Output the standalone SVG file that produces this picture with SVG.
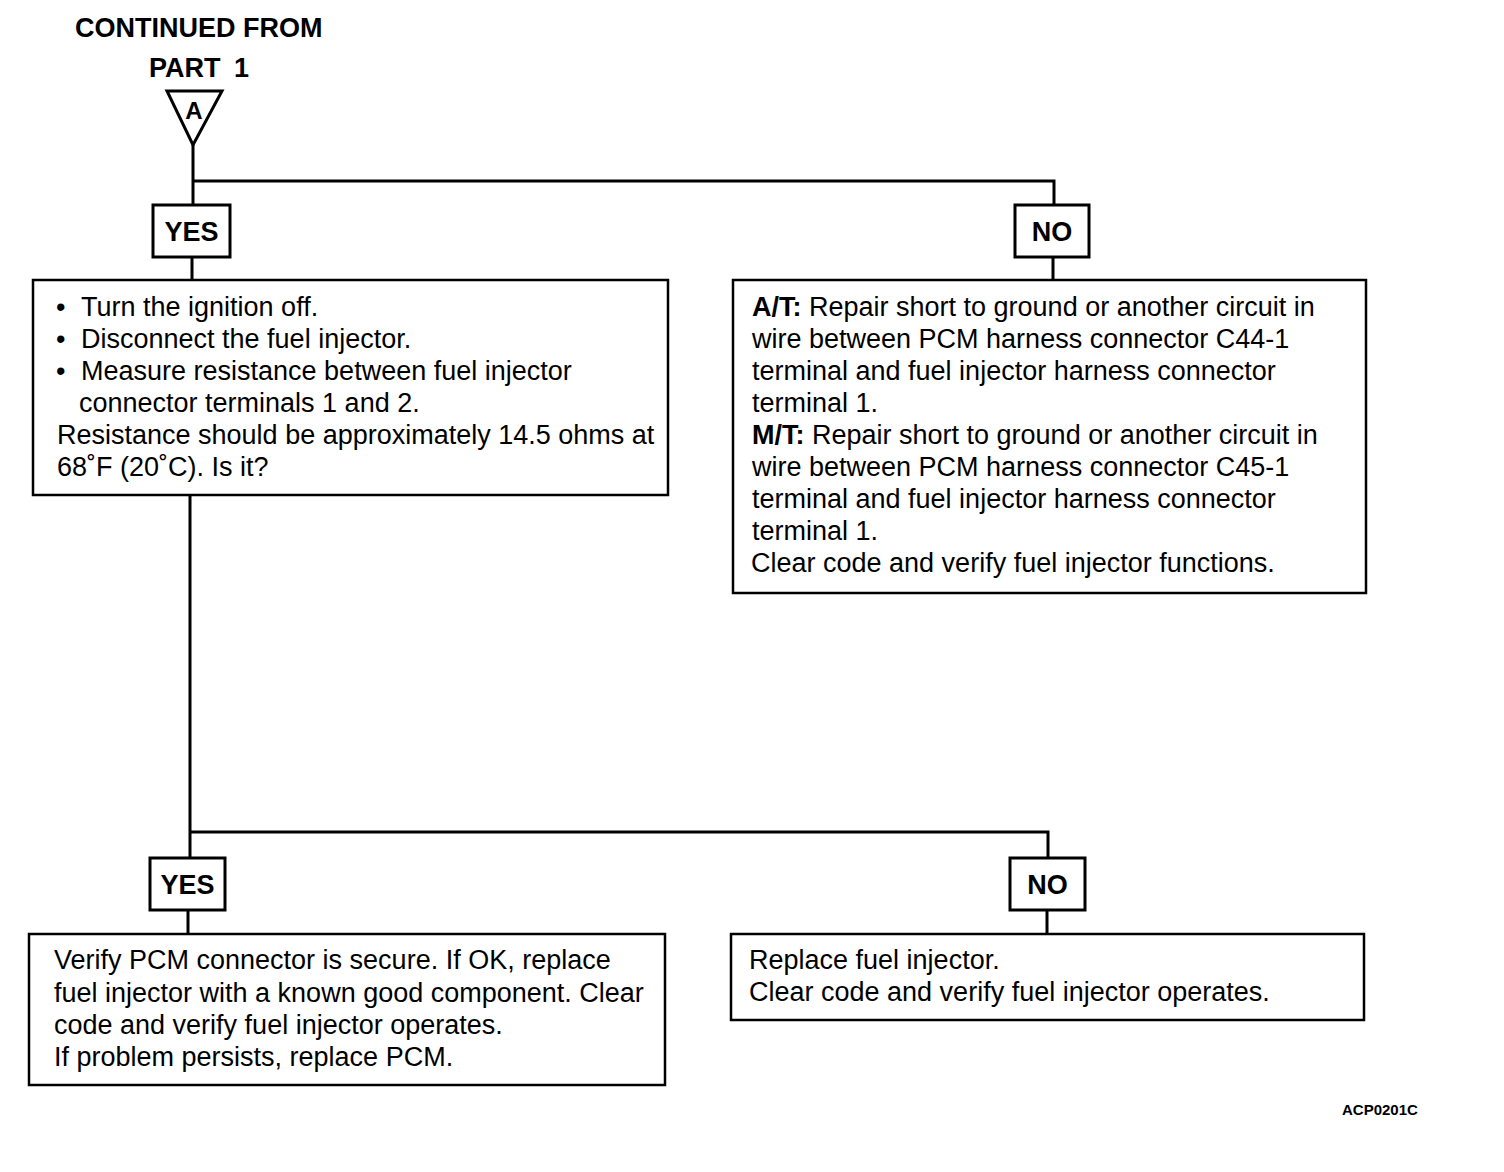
<svg xmlns="http://www.w3.org/2000/svg" width="1504" height="1172" viewBox="0 0 1504 1172">
<style>
.box{fill:#fff;stroke:#000;stroke-width:2.5}
.lbl{fill:#fff;stroke:#000;stroke-width:3}
.t{font-family:"Liberation Sans",Arial,sans-serif;font-size:27px;fill:#000}
.b{font-family:"Liberation Sans",Arial,sans-serif;font-size:27px;font-weight:bold;fill:#000}
.c{fill:none;stroke:#000;stroke-width:3}
</style>
<rect width="1504" height="1172" fill="#fff"/>
<g id="title">
<text class="b" x="75" y="37">CONTINUED FROM</text>
<text class="b" x="149" y="77">PART<tspan x="234">1</tspan></text>
</g>
<g id="connectors">
<path class="c" d="M193,145 V205 M193,181 H1054 V205 M192,257 V280 M1053,257 V280 M190,495 V858 M190,832 H1048 V858 M188,910 V934 M1047,910 V934"/>
</g>
<g id="marker-A">
<polygon points="167,91 222,91 193,145" fill="#fff" stroke="#000" stroke-width="3"/>
<text class="b" x="194" y="119" text-anchor="middle" style="font-size:24px">A</text>
</g>
<g id="yes1">
<rect class="lbl" x="153" y="205" width="77" height="52"/>
<text class="b" x="191.5" y="241" text-anchor="middle">YES</text>
</g>
<g id="no1">
<rect class="lbl" x="1015" y="205" width="74" height="52"/>
<text class="b" x="1052" y="241" text-anchor="middle">NO</text>
</g>
<g id="step1">
<rect class="box" x="33" y="280" width="635" height="215"/>
<text class="t" x="56" y="316">•<tspan x="81">Turn the ignition off.</tspan></text>
<text class="t" x="56" y="348">•<tspan x="81">Disconnect the fuel injector.</tspan></text>
<text class="t" x="56" y="380">•<tspan x="81">Measure resistance between fuel injector</tspan></text>
<text class="t" x="79" y="412">connector terminals 1 and 2.</text>
<text class="t" x="57" y="444">Resistance should be approximately 14.5 ohms at</text>
<text class="t" x="57" y="476">68˚F (20˚C). Is it?</text>
</g>
<g id="repair1">
<rect class="box" x="733" y="280" width="633" height="313"/>
<text class="t" x="752" y="316"><tspan font-weight="bold">A/T:</tspan> Repair short to ground or another circuit in</text>
<text class="t" x="752" y="348">wire between PCM harness connector C44-1</text>
<text class="t" x="752" y="380">terminal and fuel injector harness connector</text>
<text class="t" x="752" y="412">terminal 1.</text>
<text class="t" x="752" y="444"><tspan font-weight="bold">M/T:</tspan> Repair short to ground or another circuit in</text>
<text class="t" x="752" y="476">wire between PCM harness connector C45-1</text>
<text class="t" x="752" y="508">terminal and fuel injector harness connector</text>
<text class="t" x="752" y="540">terminal 1.</text>
<text class="t" x="751" y="572">Clear code and verify fuel injector functions.</text>
</g>
<g id="yes2">
<rect class="lbl" x="150" y="858" width="75" height="52"/>
<text class="b" x="187.5" y="894" text-anchor="middle">YES</text>
</g>
<g id="no2">
<rect class="lbl" x="1010" y="858" width="75" height="52"/>
<text class="b" x="1047.5" y="894" text-anchor="middle">NO</text>
</g>
<g id="step2">
<rect class="box" x="29" y="934" width="636" height="151"/>
<text class="t" x="54" y="969">Verify PCM connector is secure. If OK, replace</text>
<text class="t" x="54" y="1002">fuel injector with a known good component. Clear</text>
<text class="t" x="54" y="1034">code and verify fuel injector operates.</text>
<text class="t" x="54" y="1066">If problem persists, replace PCM.</text>
</g>
<g id="replace">
<rect class="box" x="731" y="934" width="633" height="86"/>
<text class="t" x="749" y="969">Replace fuel injector.</text>
<text class="t" x="749" y="1001">Clear code and verify fuel injector operates.</text>
</g>
<text class="b" x="1342" y="1115" style="font-size:15px">ACP0201C</text>
</svg>
